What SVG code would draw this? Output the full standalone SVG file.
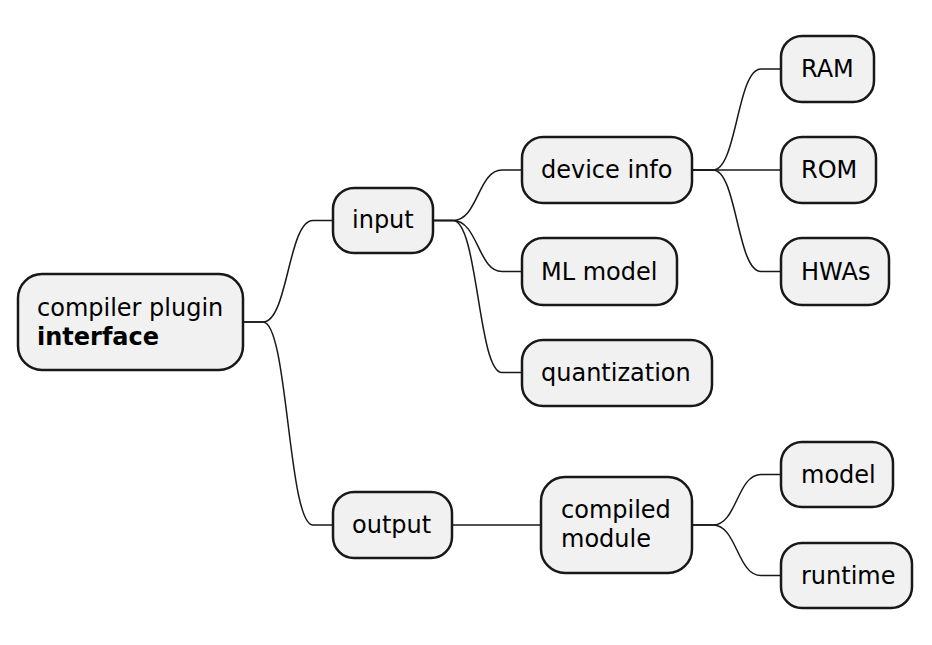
<svg xmlns="http://www.w3.org/2000/svg" width="932" height="645" viewBox="0 0 932 645">
<style>
.node rect{fill:#F1F1F1;stroke:#181818;stroke-width:2.5}
.node text{font-family:"DejaVu Sans",sans-serif;font-size:24px;fill:#000000}
.node text.b{font-weight:bold}
#connectors path{fill:none;stroke:#181818;stroke-width:1.5}
</style>
<rect width="932" height="645" fill="#FFFFFF"/>
<g id="connectors">
<path d="M243,322 H263 C288,322 288,220.5 313,220.5 H333"/>
<path d="M243,322 H263 C288,322 288,525 313,525 H333"/>
<path d="M433,220.5 H453 C478,220.5 478,170 502,170 H522"/>
<path d="M433,220.5 H453 C478,220.5 478,271.5 502,271.5 H522"/>
<path d="M433,220.5 H453 C478,220.5 478,372.5 502,372.5 H522"/>
<path d="M692,170 H713 C737,170 737,69 761,69 H781"/>
<path d="M692,170 H781"/>
<path d="M692,170 H713 C737,170 737,271.5 761,271.5 H781"/>
<path d="M452,525 H541"/>
<path d="M692,525 H713 C737,525 737,474.5 761,474.5 H781"/>
<path d="M692,525 H713 C737,525 737,575.5 761,575.5 H781"/>
</g>
<g id="root" class="node">
<rect x="18" y="274" width="225" height="96" rx="24"/>
<text x="37" y="316">compiler plugin</text>
<text x="37" y="345" class="b">interface</text>
</g>
<g id="input" class="node">
<rect x="333" y="188" width="100" height="65" rx="21"/>
<text x="352" y="227.5">input</text>
</g>
<g id="device-info" class="node">
<rect x="522" y="137" width="170" height="66" rx="21"/>
<text x="541" y="178">device info</text>
</g>
<g id="ml-model" class="node">
<rect x="522" y="238" width="155" height="67" rx="21"/>
<text x="541" y="279.5">ML model</text>
</g>
<g id="quantization" class="node">
<rect x="522" y="340" width="190" height="66" rx="21"/>
<text x="541" y="381">quantization</text>
</g>
<g id="ram" class="node">
<rect x="781" y="36" width="93" height="66" rx="21"/>
<text x="801" y="77">RAM</text>
</g>
<g id="rom" class="node">
<rect x="781" y="137" width="95" height="66" rx="21"/>
<text x="801" y="178">ROM</text>
</g>
<g id="hwas" class="node">
<rect x="781" y="238" width="108" height="67" rx="21"/>
<text x="801" y="279.5">HWAs</text>
</g>
<g id="output" class="node">
<rect x="333" y="492" width="119" height="66" rx="21"/>
<text x="352" y="533">output</text>
</g>
<g id="compiled-module" class="node">
<rect x="541" y="477" width="151" height="96" rx="24"/>
<text x="561" y="518">compiled</text>
<text x="561" y="547">module</text>
</g>
<g id="model" class="node">
<rect x="781" y="442" width="112" height="65" rx="21"/>
<text x="801" y="482.5">model</text>
</g>
<g id="runtime" class="node">
<rect x="781" y="543" width="131" height="65" rx="21"/>
<text x="801" y="583.5">runtime</text>
</g>
</svg>
